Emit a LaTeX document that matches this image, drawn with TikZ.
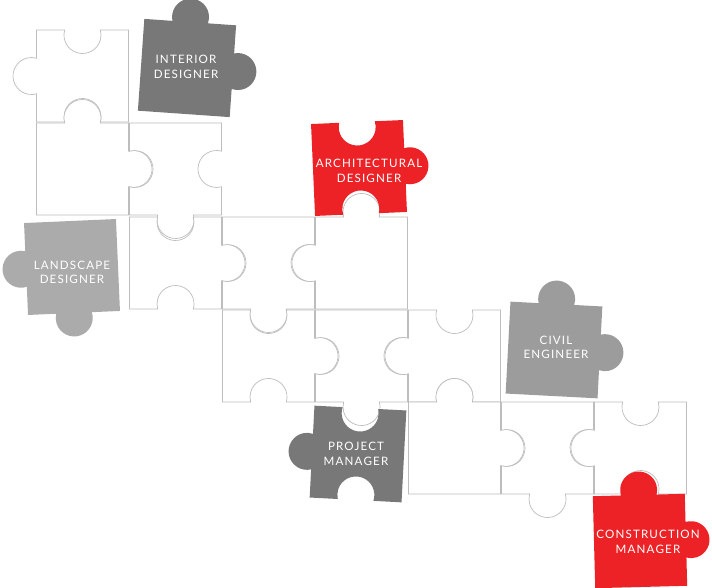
\documentclass[tikz,border=0pt]{standalone}
\usepackage{fontspec}
\newfontfamily\labfont{Lato}[LetterSpace=10]
\definecolor{pzred}{HTML}{ED2226}
\definecolor{pzdark}{HTML}{787878}
\definecolor{pzmid}{HTML}{9C9C9C}
\definecolor{pzlight}{HTML}{ABABAB}
\definecolor{pzline}{HTML}{BDBDBD}
\def\s{46}
\def\pzR{18.5}
\def\pzH{5}
\pgfmathsetmacro\pzA{sqrt(\pzR*\pzR-\pzH*\pzH)}
\pgfmathsetmacro\pzAl{asin(\pzH/\pzR)}
\def\pzTn{}
\def\pzTt{-- (-\pzA,-\s) arc[start angle=180-\pzAl, end angle=360+\pzAl, radius=\pzR]}
\def\pzTb{-- (-\pzA,-\s) arc[start angle=180+\pzAl, end angle=-\pzAl, radius=\pzR]}
\def\pzRn{}
\def\pzRt{-- (\s,-\pzA) arc[start angle=-90-\pzAl, end angle=90+\pzAl, radius=\pzR]}
\def\pzRb{-- (\s,-\pzA) arc[start angle=-90+\pzAl, end angle=-270-\pzAl, radius=\pzR]}
\def\pzBn{}
\def\pzBt{-- (\pzA,\s) arc[start angle=-\pzAl, end angle=180+\pzAl, radius=\pzR]}
\def\pzBb{-- (\pzA,\s) arc[start angle=\pzAl, end angle=-180-\pzAl, radius=\pzR]}
\def\pzLn{}
\def\pzLt{-- (-\s,\pzA) arc[start angle=90-\pzAl, end angle=270+\pzAl, radius=\pzR]}
\def\pzLb{-- (-\s,\pzA) arc[start angle=90+\pzAl, end angle=-90-\pzAl, radius=\pzR]}
\newcommand\pz[7]{\begin{scope}[shift={(#2)},rotate=#3]\path[#1] (-\s,-\s) #4 -- (\s,-\s) #5 -- (\s,\s) #6 -- (-\s,\s) #7 -- cycle;\end{scope}}
\tikzset{
  wp/.style={draw=pzline, line width=0.7pt, fill=white},
  cp/.style={fill=#1},
  lab/.style={text=white, align=center, inner sep=0pt, font=\labfont\fontsize{11.6}{14.4}\selectfont}
}
\begin{document}
\begin{tikzpicture}[x=1pt,y=-1pt]
\fill[white] (0,0) rectangle (712,588);
\useasboundingbox (0,0) rectangle (712,588);
% white grid pieces
\pz{wp}{82.5,76}{0}{\pzTb}{\pzRn}{\pzBb}{\pzLt}
\pz{wp}{82.5,169}{0}{\pzTt}{\pzRt}{\pzBn}{\pzLn}
\pz{wp}{175.5,169}{0}{\pzTn}{\pzRb}{\pzBt}{\pzLb}
\pz{wp}{175.5,263}{0}{\pzTb}{\pzRt}{\pzBb}{\pzLn}
\pz{wp}{268.5,263}{0}{\pzTn}{\pzRb}{\pzBt}{\pzLb}
\pz{wp}{361.5,263}{0}{\pzTt}{\pzRn}{\pzBn}{\pzLt}
\pz{wp}{268.5,356}{0}{\pzTb}{\pzRt}{\pzBb}{\pzLn}
\pz{wp}{361.5,356}{0}{\pzTn}{\pzRb}{\pzBt}{\pzLb}
\pz{wp}{454.5,356}{0}{\pzTb}{\pzRn}{\pzBb}{\pzLt}
\pz{wp}{454.5,448}{0}{\pzTt}{\pzRt}{\pzBn}{\pzLn}
\pz{wp}{547.5,448}{0}{\pzTn}{\pzRb}{\pzBt}{\pzLb}
\pz{wp}{640.5,448}{0}{\pzTb}{\pzRn}{\pzBb}{\pzLt}
% coloured pieces
\pz{cp=pzdark}{187,68}{-4}{\pzTt}{\pzRt}{\pzBn}{\pzLn}
\pz{cp=pzred}{359,168}{2.5}{\pzTb}{\pzRt}{\pzBb}{\pzLn}
\pz{cp=pzlight}{72,267}{2.5}{\pzTn}{\pzRn}{\pzBt}{\pzLt}
\pz{cp=pzmid}{554,350}{-3}{\pzTt}{\pzRt}{\pzBn}{\pzLn}
\pz{cp=pzdark}{358,454}{-3}{\pzTb}{\pzRn}{\pzBb}{\pzLt}
\pz{cp=pzred}{640,541}{1.5}{\pzTt}{\pzRt}{\pzBn}{\pzLn}
% labels
\node[lab] (interior) at (186,67) {INTERIOR\\DESIGNER};
\node[lab] (arch) at (369,171) {ARCHITECTURAL\\DESIGNER};
\node[lab] (land) at (72,272.5) {LANDSCAPE\\DESIGNER};
\node[lab] (civil) at (556,347.5) {CIVIL\\ENGINEER};
\node[lab] (project) at (356,454) {PROJECT\\MANAGER};
\node[lab] (constr) at (648,542) {CONSTRUCTION\\MANAGER};
\end{tikzpicture}
\end{document}
